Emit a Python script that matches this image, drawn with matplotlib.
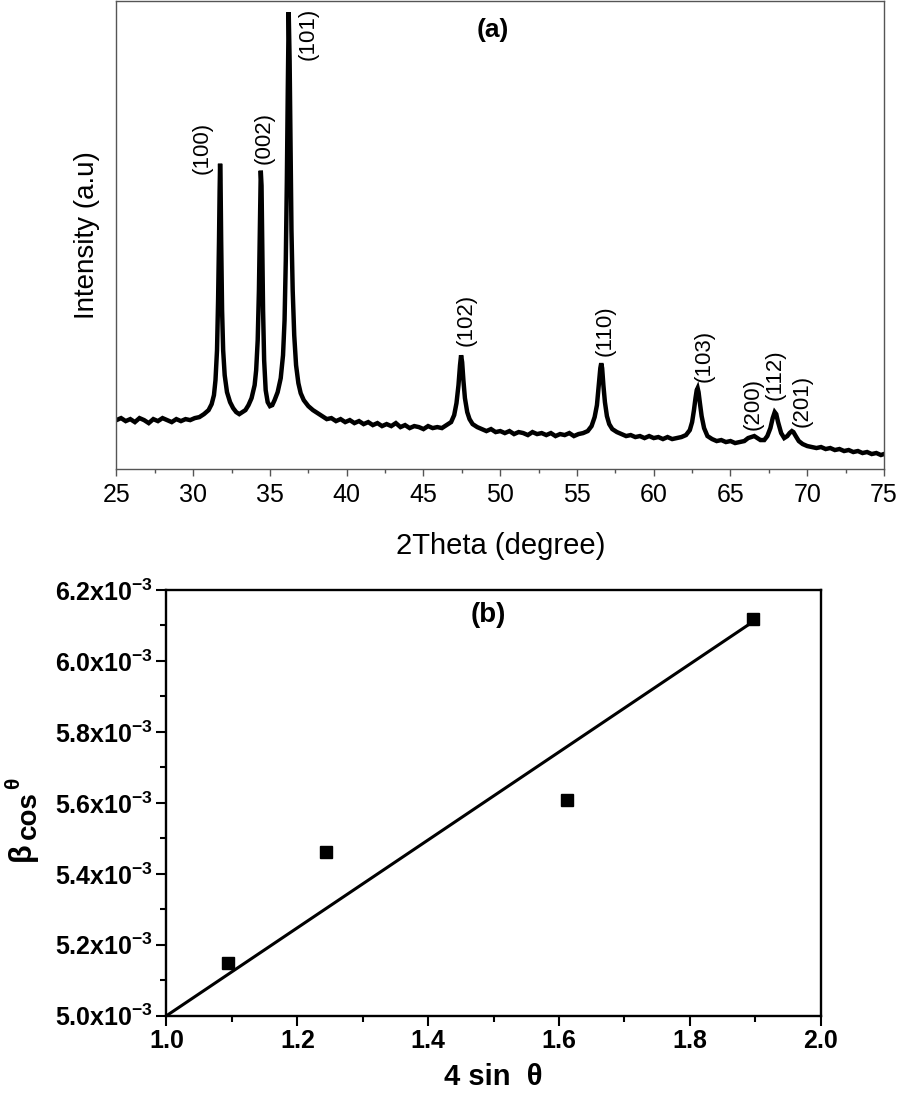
import numpy as np
import matplotlib
matplotlib.use("Agg")
import matplotlib.pyplot as plt
from matplotlib.ticker import MultipleLocator, FuncFormatter

plt.rcParams['font.family'] = ['Liberation Sans', 'DejaVu Sans']
plt.rcParams['mathtext.fontset'] = 'custom'
plt.rcParams['mathtext.rm'] = 'Liberation Sans'
plt.rcParams['mathtext.bf'] = 'Liberation Sans:bold'
plt.rcParams['mathtext.it'] = 'Liberation Sans:italic'

# ---------------- (a) XRD pattern ----------------
two_theta = [
    25.0, 25.3, 25.6, 25.9, 26.2, 26.5, 26.8, 27.1, 27.4, 27.7, 28.0, 28.3, 28.6, 28.9, 29.2, 29.5, 29.8,
    30.1, 30.4, 30.7, 31.0, 31.2, 31.35, 31.45, 31.55, 31.62, 31.68, 31.72, 31.75, 31.78, 31.82, 31.88,
    31.95, 32.05, 32.2, 32.4, 32.6, 32.8, 33.0, 33.2, 33.4, 33.6, 33.8, 34.0, 34.1, 34.2, 34.28, 34.34,
    34.4, 34.45, 34.5, 34.55, 34.62, 34.72, 34.85, 35.0, 35.15, 35.3, 35.5, 35.7, 35.85, 35.95, 36.03,
    36.1, 36.16, 36.22, 36.28, 36.34, 36.4, 36.48, 36.58, 36.7, 36.85, 37.0, 37.2, 37.5, 37.8, 38.1,
    38.4, 38.7, 39.0, 39.3, 39.6, 39.9, 40.2, 40.5, 40.8, 41.1, 41.4, 41.7, 42.0, 42.3, 42.6, 42.9, 43.2,
    43.5, 43.8, 44.1, 44.4, 44.7, 45.0, 45.3, 45.6, 45.9, 46.2, 46.5, 46.8, 47.0, 47.15, 47.28, 47.38,
    47.45, 47.52, 47.6, 47.7, 47.85, 48.0, 48.2, 48.5, 48.8, 49.1, 49.4, 49.7, 50.0, 50.3, 50.6, 50.9,
    51.2, 51.5, 51.8, 52.1, 52.4, 52.7, 53.0, 53.3, 53.6, 53.9, 54.2, 54.5, 54.8, 55.1, 55.4, 55.7,
    55.95, 56.15, 56.3, 56.42, 56.52, 56.58, 56.64, 56.72, 56.82, 56.95, 57.1, 57.3, 57.6, 57.9, 58.2,
    58.5, 58.8, 59.1, 59.4, 59.7, 60.0, 60.3, 60.6, 60.9, 61.2, 61.5, 61.8, 62.1, 62.35, 62.5, 62.62,
    62.72, 62.8, 62.86, 62.92, 63.0, 63.12, 63.28, 63.5, 63.8, 64.1, 64.4, 64.7, 65.0, 65.3, 65.6, 65.9,
    66.15, 66.35, 66.55, 66.75, 66.95, 67.2, 67.4, 67.6, 67.75, 67.88, 67.98, 68.1, 68.3, 68.5, 68.7,
    68.85, 69.0, 69.1, 69.25, 69.45, 69.7, 70.0, 70.3, 70.6, 70.9, 71.2, 71.5, 71.8, 72.1, 72.4, 72.7,
    73.0, 73.3, 73.6, 73.9, 74.2, 74.5, 74.8, 75.0,
]
intensity = [
    49, 51, 48, 50, 47, 51, 49, 46, 50, 48, 51, 49, 47, 50, 48, 50, 49,
    51, 52, 55, 59, 65, 74, 89, 119, 169, 229, 279, 306, 289, 229, 159,
    119, 94, 77, 67, 61, 57, 55, 57, 59, 64, 71, 84, 99, 129, 179, 239,
    299, 284, 219, 159, 109, 79, 67, 63, 64, 69, 77, 91, 114, 149, 209,
    289, 379, 458, 409, 319, 239, 179, 134, 104, 86, 76, 69, 63, 59, 56,
    53, 50, 51, 48, 50, 47, 49, 46, 48, 45, 47, 44, 46, 43, 45, 43, 46,
    42, 44, 41, 43, 42, 40, 43, 41, 42, 41, 44, 47, 54, 66, 84, 104,
    114, 107, 89, 71, 57, 50, 45, 42, 40, 38, 40, 37, 38, 36, 38, 35,
    37, 36, 34, 37, 35, 36, 34, 36, 33, 35, 34, 36, 33, 35, 36, 38,
    43, 52, 64, 84, 101, 106, 101, 84, 67, 53, 45, 40, 37, 35, 33,
    34, 32, 33, 31, 33, 31, 32, 30, 32, 30, 31, 32, 34, 39, 47, 59,
    71, 79, 81, 77, 67, 53, 41, 33, 30, 28, 29, 27, 28, 26, 27, 28,
    31, 32, 33, 31, 29, 29, 33, 41, 51, 57, 55, 47, 36, 31, 33,
    36, 38, 37, 33, 28, 25, 23, 22, 21, 22, 20, 21, 19, 20, 18, 19,
    17, 18, 16, 17, 15, 16, 14, 15,
]

peak_labels = ['(100)', '(002)', '(101)', '(102)', '(110)', '(103)', '(200)', '(112)', '(201)']
peak_pos = [31.75, 34.40, 36.22, 47.45, 56.58, 62.86, 66.55, 67.88, 69.0]
peak_int = [306, 299, 458, 114, 106, 81, 33, 57, 38]
label_offsets_px = [(-18, 16), (3, 33), (19, -22), (5, 35), (4, 33), (6, 32), (-1, 32), (0, 37), (10, 30)]

# ---------------- (b) Williamson-Hall ----------------
four_sin_theta = [1.0935, 1.2433, 1.6117, 1.896]
beta_cos_theta = [5.149e-3, 5.4615e-3, 5.608e-3, 6.118e-3]
fit_x = [1.0, 1.896]
fit_y = [5.0e-3, 6.11e-3]

W, H = 898, 1095
fig = plt.figure(figsize=(W / 100, H / 100), dpi=100)

# ---- top panel ----
ax1 = fig.add_axes([0.1297, 0.5717, 0.8547, 0.4273])
ax1.plot(two_theta, intensity, color='black', lw=3.2, solid_joinstyle='miter')
ax1.set_xlim(25, 75)
ax1.set_ylim(0, 469)
ax1.set_yticks([])
ax1.xaxis.set_major_locator(MultipleLocator(5))
ax1.xaxis.set_minor_locator(MultipleLocator(2.5))
gray = '#555555'
for s in ax1.spines.values():
    s.set_color(gray)
    s.set_linewidth(1.0)
ax1.tick_params(axis='x', which='major', direction='out', length=5, width=1, color=gray,
                labelsize=18, pad=5)
ax1.tick_params(axis='x', which='minor', direction='out', length=3, width=1, color=gray)
ax1.set_xlabel('2Theta (degree)', fontsize=21, labelpad=18)
ax1.set_ylabel('Intensity (a.u)', fontsize=20, labelpad=12)
ax1.text(0.4906, 0.938, '(a)', transform=ax1.transAxes, ha='center', va='center',
         fontsize=19, fontweight='bold')
for lab, px, pi, off in zip(peak_labels, peak_pos, peak_int, label_offsets_px):
    ax1.annotate(lab, xy=(px, pi), xytext=off, textcoords='offset pixels',
                 rotation=90, ha='center', va='center', fontsize=16)

# ---- bottom panel ----
ax2 = fig.add_axes([0.1854, 0.0724, 0.7285, 0.3888])
ax2.plot(fit_x, fit_y, color='black', lw=2.2, clip_on=False, zorder=2)
ax2.plot(four_sin_theta, beta_cos_theta, linestyle='none', marker='s', markersize=8.5,
         color='black', zorder=3)
ax2.set_xlim(1.0, 2.0)
ax2.set_ylim(5.0e-3, 6.2e-3)
ax2.xaxis.set_major_locator(MultipleLocator(0.2))
ax2.xaxis.set_minor_locator(MultipleLocator(0.1))
ax2.yaxis.set_major_locator(MultipleLocator(0.2e-3))
ax2.yaxis.set_minor_locator(MultipleLocator(0.1e-3))
ax2.xaxis.set_major_formatter(FuncFormatter(lambda v, p: '%.1f' % v))
ax2.yaxis.set_major_formatter(FuncFormatter(lambda v, p: r'$\mathbf{%.1fx10^{-3}}$' % (v * 1e3)))
for s in ax2.spines.values():
    s.set_color('black')
    s.set_linewidth(1.7)
ax2.tick_params(which='major', direction='out', length=7.5, width=1.5, labelsize=18, pad=2)
ax2.tick_params(which='minor', direction='out', length=4, width=1.5)
for t in ax2.get_xticklabels() + ax2.get_yticklabels():
    t.set_fontweight('bold')
ax2.set_xlabel('4 sin  θ', fontsize=21, fontweight='bold', labelpad=7)
ax2.text(0.4915, 0.941, '(b)', transform=ax2.transAxes, ha='center', va='center',
         fontsize=20, fontweight='bold')

# y label of (b): β with large subscript "cos" and superscript θ
def fpos(x, y):
    return x / W, 1 - y / H
fig.text(*fpos(22, 852), 'β', rotation=90, ha='center', va='center', fontsize=22, fontweight='bold')
fig.text(*fpos(29, 815), 'cos', rotation=90, ha='center', va='center', fontsize=20, fontweight='bold')
fig.text(*fpos(14, 783), 'θ', rotation=90, ha='center', va='center', fontsize=15, fontweight='bold')

fig.savefig('out.png', dpi=100)
